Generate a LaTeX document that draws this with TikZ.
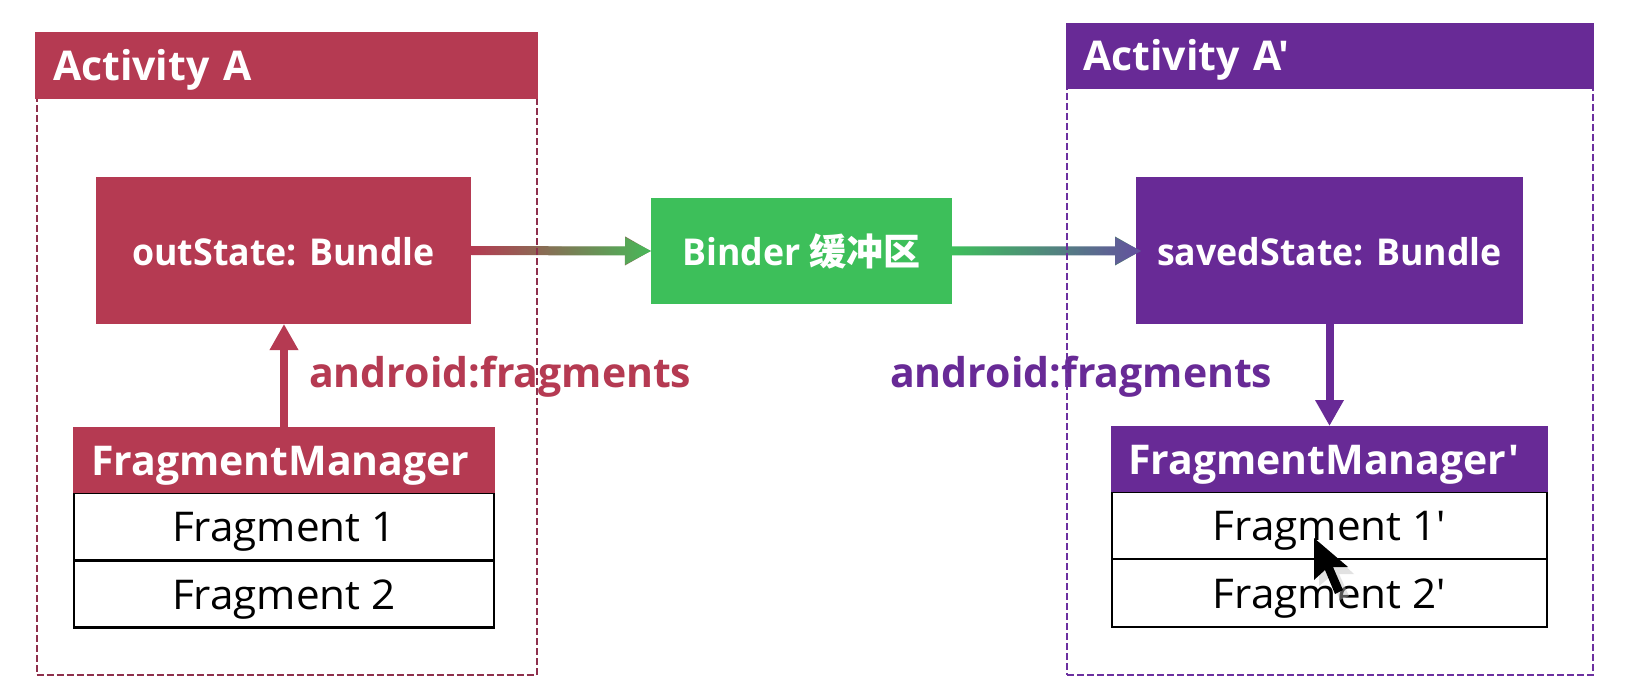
\documentclass[tikz,border=0pt]{standalone}
\usepackage{fontspec}
\setmainfont{Open Sans}
\newfontfamily\cjk{Noto Sans CJK SC}
\newfontfamily\plainsans{Open Sans}
\newfontfamily\narrowsans[FakeStretch=.965]{Open Sans}
\newfontfamily\widesans[FakeStretch=1.03]{Open Sans}
\newcommand{\prm}{\symbol{39}}
\usetikzlibrary{arrows.meta,calc}
\definecolor{crim}{HTML}{B53A52}
\definecolor{crimdash}{HTML}{8E2F4C}
\definecolor{purp}{HTML}{682A96}
\definecolor{purpdash}{HTML}{6C30A0}
\definecolor{grn}{HTML}{3DBF5A}
\definecolor{headgrn}{HTML}{47B858}
\definecolor{headpur}{HTML}{64509F}
\tikzset{
  box/.style={rectangle,inner sep=0pt,outer sep=0pt,text height=35pt,text depth=5pt,anchor=center},
  titled/.style={box,fill=#1,text=white,font=\fontsize{37}{44}\narrowsans\bfseries},
  header/.style={box,fill=#1,text=white,font=\fontsize{41}{46}\plainsans\bfseries,align=left},
  row/.style={box,draw=black,line width=2.2pt,fill=white,text=black,font=\fontsize{41}{44}\widesans},
  frame/.style={rectangle,draw=#1,line width=2pt,dash pattern=on 7pt off 3pt,inner sep=0pt,outer sep=0pt},
  flow/.style={draw=#1,line width=8pt,-{Triangle[length=26pt,width=27pt]}},
  tag/.style={text=#1,inner sep=0pt,anchor=base west,font=\fontsize{41}{44}\selectfont\bfseries},
}
\begin{document}
\begin{tikzpicture}[x=1pt,y=-1pt]
\useasboundingbox (0,0) rectangle (1632,700);
\fill[white] (0,0) rectangle (1632,700);
% main boxes
\node[titled=crim,minimum width=375pt,minimum height=147pt] (out) at (283.5,250.5) {outState: Bundle};
\node[titled=grn,minimum width=301pt,minimum height=106pt] (binder) at (801.5,251) {Binder {\cjk 缓冲区}};
\node[titled=purp,minimum width=387pt,minimum height=147pt] (saved) at (1329.5,250.5) {savedState: Bundle};
% left manager
\node[row,minimum width=420pt,minimum height=67pt] (f1) at (284,526.5) {Fragment 1};
\node[row,minimum width=420pt,minimum height=67pt] (f2) at (284,594) {Fragment 2};
\node[header=crim,minimum width=422pt,minimum height=66pt,text width=386pt] (fm) at (284,460) {FragmentManager};
% right manager
\node[row,minimum width=435pt,minimum height=67pt] (g1) at (1329.5,525.5) {Fragment 1\prm};
\node[row,minimum width=435pt,minimum height=68pt] (g2) at (1329.5,593) {Fragment 2\prm};
\node[header=purp,minimum width=437pt,minimum height=66pt,text width=403pt] (gm) at (1329.5,459) {FragmentManager\prm};
% connectors
\coordinate (savedin) at ($(saved.west)+(5,0.5)$);
\draw[flow=crim] (fm.north) -- (fm.north|-out.south);
\draw[flow=purp] (saved.south) -- (gm.north);
\draw[flow={crim!50!grn}] (out.east) -- (binder.west);
\draw[flow={grn!50!purp}] (binder.east) -- (savedin);
\shade[left color=crim,right color=headgrn]
  ($(out.east)+(0,-4.5)$) -- ($(binder.west)+(-26,-4.5)$) -- ($(binder.west)+(-26,-13.5)$) -- (binder.west)
  -- ($(binder.west)+(-26,13.5)$) -- ($(binder.west)+(-26,4.5)$) -- ($(out.east)+(0,4.5)$) -- cycle;
\shade[left color=grn,right color=headpur]
  ($(binder.east)+(0,-4.5)$) -- ($(savedin)+(-26,-4.5)$) -- ($(savedin)+(-26,-13.5)$) -- (savedin)
  -- ($(savedin)+(-26,13.5)$) -- ($(savedin)+(-26,4.5)$) -- ($(binder.east)+(0,4.5)$) -- cycle;
% labels
\node[tag=crim] (la) at (309,387) {android:fragments};
\node[tag=purp] (lb) at (890,387) {android:fragments};
% activity frames
\node[frame=crimdash,minimum width=500pt,minimum height=610pt] (fa) at (286.5,370) {};
\node[frame=purpdash,minimum width=526pt,minimum height=620pt] (fb) at (1330,365) {};
\node[header=crim,minimum width=503pt,minimum height=67pt,text width=467pt] (ha) at (286.5,65.5) {Activity A};
\node[header=purp,minimum width=528pt,minimum height=66pt,text width=494pt] (hb) at (1330,56) {Activity A\prm};
% mouse pointer
\fill[black!25,opacity=.45] (1319,542) -- (1319,586) -- (1330,577) -- (1340,600) -- (1349,596) -- (1339,574) -- (1354,574) -- cycle;
\fill[black] (1314,538) -- (1314,580) -- (1325,570) -- (1335,594) -- (1343,590) -- (1333,567) -- (1348,567) -- cycle;
\end{tikzpicture}
\end{document}
